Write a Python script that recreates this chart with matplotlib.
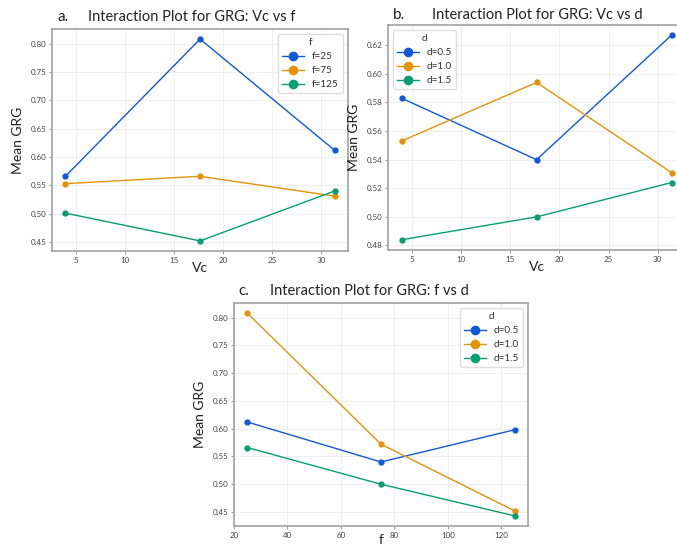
import matplotlib.pyplot as plt

plt.rcParams['font.family'] = ['Lato', 'DejaVu Sans']

# datos
vc = [3.93, 17.67, 31.4]
f_vals = [25, 75, 125]

grg_vc_f = {
    'f=25': [0.566, 0.808, 0.612],
    'f=75': [0.553, 0.566, 0.531],
    'f=125': [0.501, 0.452, 0.540],
}
grg_vc_d = {
    'd=0.5': [0.583, 0.540, 0.627],
    'd=1.0': [0.553, 0.594, 0.531],
    'd=1.5': [0.484, 0.500, 0.524],
}
grg_f_d = {
    'd=0.5': [0.612, 0.540, 0.598],
    'd=1.0': [0.808, 0.572, 0.452],
    'd=1.5': [0.566, 0.500, 0.443],
}

colores = ['#1158d8', '#e3920b', '#069e72']

W, H = 677, 546
fig = plt.figure(figsize=(W / 100, H / 100), dpi=100)


def caja(x0, x1, y0, y1):  # pixeles -> fraccion de figura
    return [x0 / W, (H - y1) / H, (x1 - x0) / W, (y1 - y0) / H]


def panel(rect, x, series, titulo_leg, loc, xlabel, pad_x=0):
    ax = fig.add_axes(rect)
    for (nombre, ys), c in zip(series.items(), colores):
        ax.plot(x, ys, color=c, marker='o', markersize=3.5, linewidth=1.0, label=nombre)
    ax.grid(True, color='#ececec', linewidth=0.6)
    ax.set_axisbelow(True)
    for s in ax.spines.values():
        s.set_color('#a8a8a8')
        s.set_linewidth(1.3)
    ax.tick_params(labelsize=5.8, length=2, width=0.6, color='#888888', labelcolor='#444444', pad=2)
    ax.set_ylabel('Mean GRG', fontsize=10, color='#222222', labelpad=5)
    ax.set_xlabel(xlabel, fontsize=10, color='#222222', labelpad=pad_x)
    leg = ax.legend(title=titulo_leg, loc=loc, fontsize=7.2, title_fontsize=7.2,
                    markerscale=1.7, handlelength=2.2, framealpha=1,
                    edgecolor='#dddddd', labelcolor='#333333')
    leg.get_title().set_color('#333333')
    return ax


ax1 = panel(caja(52, 348, 29, 251), vc, grg_vc_f, 'f', 'upper right', 'Vc', -1)
ax2 = panel(caja(388, 685, 25, 250), vc, grg_vc_d, 'd', 'upper left', 'Vc', -1)
ax3 = panel(caja(234, 528, 303, 526), f_vals, grg_f_d, 'd', 'upper right', 'f', -3)

# titulos y letras de cada panel
fig.text(57 / W, 1 - 17 / H, 'a.', fontsize=11, va='center', color='#222222')
fig.text(192 / W, 1 - 17 / H, 'Interaction Plot for GRG: Vc vs f', fontsize=10.5, ha='center', va='center', color='#222222')
fig.text(393 / W, 1 - 15 / H, 'b.', fontsize=11, va='center', color='#222222')
fig.text(537 / W, 1 - 15 / H, 'Interaction Plot for GRG: Vc vs d', fontsize=10.5, ha='center', va='center', color='#222222')
fig.text(238 / W, 1 - 291 / H, 'c.', fontsize=11, va='center', color='#222222')
fig.text(369 / W, 1 - 291 / H, 'Interaction Plot for GRG: f vs d', fontsize=10.5, ha='center', va='center', color='#222222')

fig.savefig('out.png', dpi=100)
